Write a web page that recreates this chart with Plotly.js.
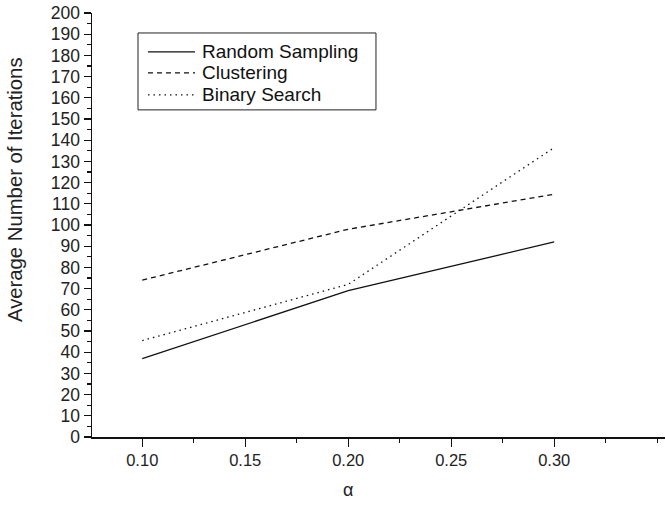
<!DOCTYPE html>
<html>
<head>
<meta charset="utf-8">
<script src="https://cdn.plot.ly/plotly-3.0.1.min.js"></script>
<style>html,body{margin:0;padding:0;background:#fff;}#chart{width:665px;height:506px;}</style>
</head>
<body>
<div id="chart"></div>
<script>
const alphas = [0.10, 0.20, 0.30];
const randomSampling = [37, 69, 92];
const clustering = [74, 98, 114.5];
const binarySearch = [45.5, 72, 136.5];
const seriesNames = ["Random Sampling", "Clustering", "Binary Search"];
const yTickVals = [0,10,20,30,40,50,60,70,80,90,100,110,120,130,140,150,160,170,180,190,200];
const xTickVals = [0.10, 0.15, 0.20, 0.25, 0.30];
const xTickText = ["0.10", "0.15", "0.20", "0.25", "0.30"];

const font = "Liberation Sans, Arial, sans-serif";
const dashes = ["solid", "5px,4px", "1.5px,4px"];
const seriesData = [randomSampling, clustering, binarySearch];
const traces = seriesData.map((ys, i) => ({
  x: alphas, y: ys, name: seriesNames[i], mode: "lines", showlegend: false,
  line: {color: "#111", width: 1.3, dash: dashes[i]}
}));

// custom legend (paper coordinates)
const legRows = [0.9081, 0.8587, 0.8068];
const shapes = [
  {type: "rect", xref: "paper", yref: "paper", x0: 0.0803, x1: 0.4956, y0: 0.7715, y1: 0.9529,
   line: {color: "#222", width: 1}, fillcolor: "#fff", layer: "above"}
];
const annotations = [
  {text: "Average Number of Iterations", xref: "paper", yref: "paper", x: -0.134, y: 0.583, textangle: -90,
   showarrow: false, font: {family: font, size: 20.3, color: "#222"}, xanchor: "center", yanchor: "middle"},
  {text: "α", xref: "x", yref: "paper", x: 0.20, y: -0.125, showarrow: false,
   font: {family: font, size: 18, color: "#222"}, xanchor: "center", yanchor: "middle"}
];
seriesNames.forEach((nm, i) => {
  shapes.push({type: "line", xref: "paper", yref: "paper", x0: 0.0977, x1: 0.1798, y0: legRows[i], y1: legRows[i],
               line: {color: "#111", width: 1.3, dash: dashes[i]}, layer: "above"});
  annotations.push({text: nm, xref: "paper", yref: "paper", x: 0.1885, y: legRows[i], xanchor: "left", yanchor: "middle",
                    showarrow: false, font: {family: font, size: 19, color: "#111"}});
});

const layout = {
  width: 665, height: 506,
  margin: {l: 92, r: 0, t: 13, b: 69},
  paper_bgcolor: "#fff", plot_bgcolor: "#fff",
  font: {family: font, size: 16, color: "#111"},
  showlegend: false,
  xaxis: {range: [0.0756, 0.3538], tickvals: xTickVals, ticktext: xTickText, ticks: "outside", ticklen: 8, tickwidth: 1.3,
          tickcolor: "#111", showline: true, linecolor: "#111", linewidth: 1.5, showgrid: false, zeroline: false,
          minor: {dtick: 0.025, tick0: 0.075, ticks: "outside", ticklen: 4, tickwidth: 1.2, tickcolor: "#111", showgrid: false},
          tickfont: {family: font, size: 16.5, color: "#222"}, fixedrange: true},
  yaxis: {range: [0, 200], tickvals: yTickVals, ticks: "outside", ticklen: 7, tickwidth: 1.3, tickcolor: "#111",
          showline: true, linecolor: "#111", linewidth: 1.5, showgrid: false, zeroline: false,
          minor: {dtick: 5, ticks: "outside", ticklen: 4, tickwidth: 1.2, tickcolor: "#111", showgrid: false},
          tickfont: {family: font, size: 17.5, color: "#222"}, fixedrange: true},
  shapes: shapes,
  annotations: annotations
};
Plotly.newPlot("chart", traces, layout, {staticPlot: true, displayModeBar: false});
</script>
</body>
</html>
